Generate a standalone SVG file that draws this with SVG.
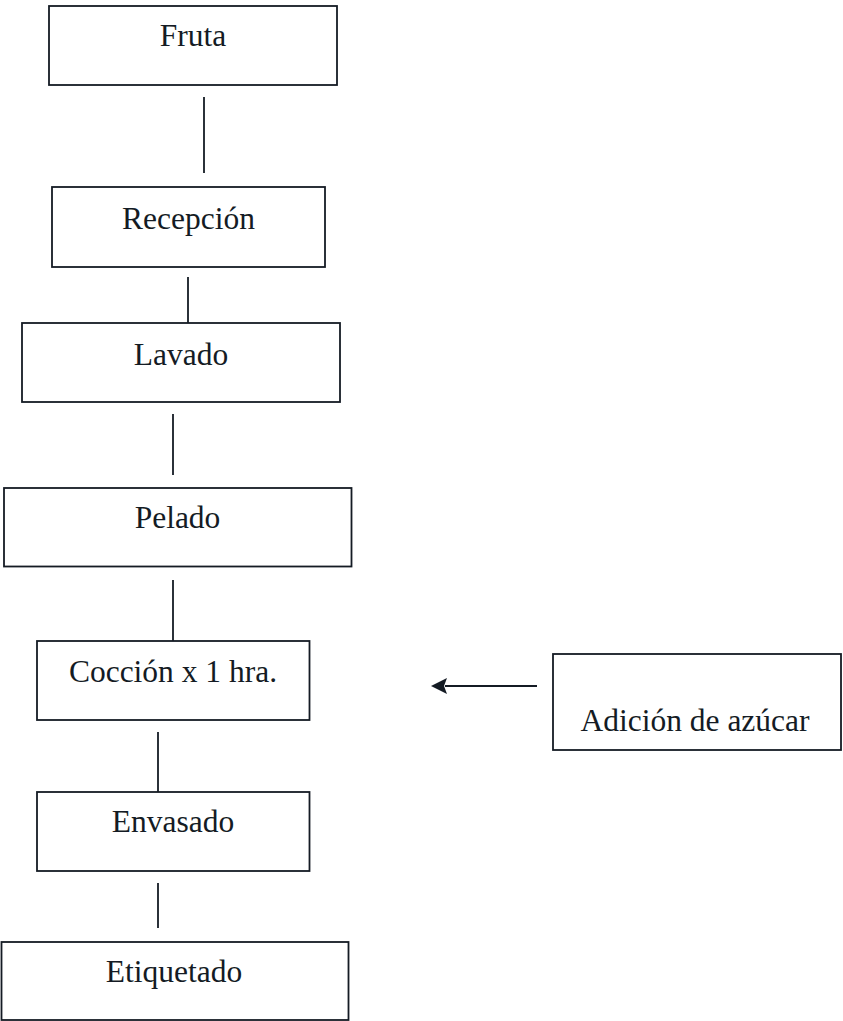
<svg xmlns="http://www.w3.org/2000/svg" width="843" height="1021" viewBox="0 0 843 1021">
<style>
.box{fill:#fff;stroke:#141b24;stroke-width:1.8}
.lbl{font-family:"Liberation Serif","Times New Roman",serif;font-size:31.5px;fill:#141b24;text-anchor:middle}
.con{stroke:#141b24;stroke-width:1.8;fill:none}
</style>
<defs>
<marker id="ah" markerWidth="18" markerHeight="18" refX="3" refY="9" orient="auto" markerUnits="userSpaceOnUse">
<path d="M17,9 L1,1 L4,9 L1,17 Z" fill="#141b24"/>
</marker>
</defs>
<rect width="843" height="1021" fill="#fff"/>
<g id="connectors">
<line class="con" x1="204" y1="97" x2="204" y2="173"/>
<line class="con" x1="188" y1="277" x2="188" y2="323"/>
<line class="con" x1="173" y1="414" x2="173" y2="475"/>
<line class="con" x1="173" y1="580" x2="173" y2="641"/>
<line class="con" x1="158" y1="732" x2="158" y2="792"/>
<line class="con" x1="158" y1="883" x2="158" y2="928"/>
<line class="con" x1="537" y1="686" x2="445" y2="686" marker-end="url(#ah)"/>
</g>
<g id="fruta"><rect class="box" x="49" y="6" width="288" height="79"/><text class="lbl" x="193" y="46">Fruta</text></g>
<g id="recepcion"><rect class="box" x="52" y="187" width="273" height="80"/><text class="lbl" x="188.5" y="229">Recepción</text></g>
<g id="lavado"><rect class="box" x="22" y="323" width="318" height="79"/><text class="lbl" x="181" y="365">Lavado</text></g>
<g id="pelado"><rect class="box" x="4" y="488" width="347.5" height="78.5"/><text class="lbl" x="177.5" y="528">Pelado</text></g>
<g id="coccion"><rect class="box" x="37" y="641" width="272.5" height="79"/><text class="lbl" x="173" y="682">Cocción x 1 hra.</text></g>
<g id="envasado"><rect class="box" x="37" y="792" width="272.5" height="79"/><text class="lbl" x="173" y="832">Envasado</text></g>
<g id="etiquetado"><rect class="box" x="1.5" y="942" width="347" height="78"/><text class="lbl" x="174" y="982">Etiquetado</text></g>
<g id="adicion"><rect class="box" x="553" y="654" width="288" height="96"/><text class="lbl" x="695" y="731">Adición de azúcar</text></g>
</svg>
